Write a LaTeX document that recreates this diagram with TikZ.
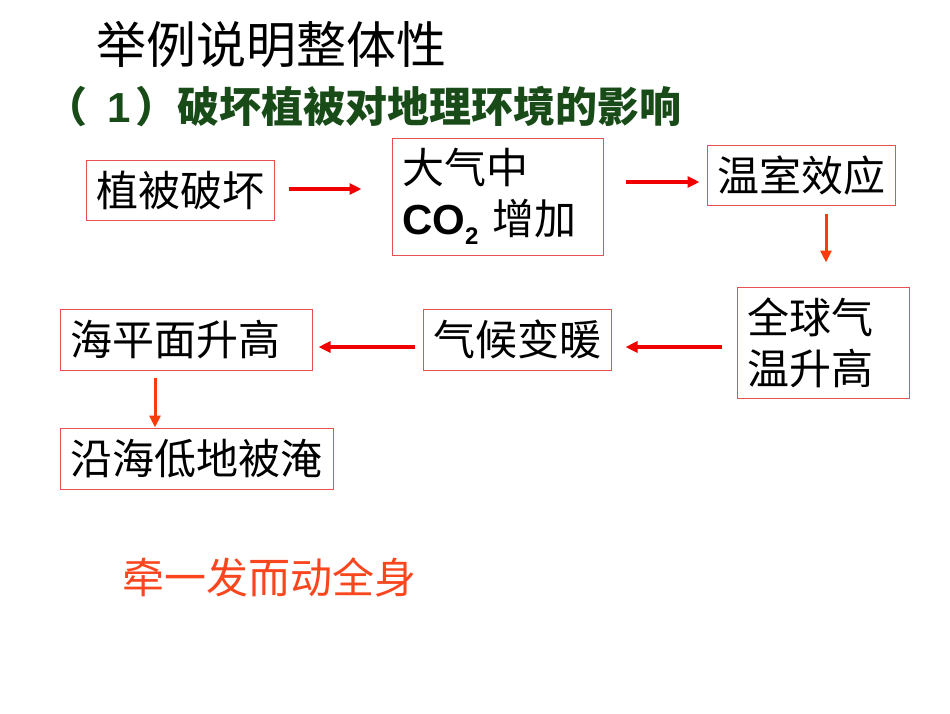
\documentclass[tikz,border=0pt]{standalone}
\usepackage{fontspec}
\setmainfont{Liberation Sans}
\newfontfamily\cjk{Noto Sans CJK SC}
\usetikzlibrary{arrows.meta}
\definecolor{boxred}{RGB}{230,80,80}
\definecolor{arrred}{RGB}{240,0,0}
\definecolor{arrorange}{RGB}{250,60,10}
\definecolor{titlegreen}{RGB}{25,75,25}
\definecolor{slogan}{RGB}{250,70,30}
\tikzset{
  box/.style={draw=boxred, line width=1pt, inner ysep=0pt, inner xsep=10pt, align=left,
              font=\cjk\fontsize{42}{51}\selectfont},
  harrow/.style={draw=arrred, line width=3.6pt, -{Triangle[length=12pt,width=11pt]}},
  varrow/.style={draw=arrorange, line width=3pt, -{Triangle[length=12pt,width=11pt]}},
}
\begin{document}
\begin{tikzpicture}[x=1pt,y=-1pt]
\useasboundingbox (0,0) rectangle (950,713);
\node[anchor=west, font=\cjk\fontsize{50}{56}\selectfont] (title) at (93,45) {举例说明整体性};
\node[anchor=west, text=titlegreen, font=\fontsize{42}{48}\selectfont] (sub) at (42,107)
  {{\cjk\bfseries （}\hspace{20pt}{\bfseries 1}\hspace{5pt}{\cjk\bfseries ）破坏植被对地理环境的影响}};

\node[box, text width=168pt, minimum height=60pt] (b1) at (180,190) {植被破坏};
\node[box, text width=191pt, minimum height=117pt] (b2) at (497.5,196.5)
  {大气中\\{\rmfamily\bfseries CO\raisebox{-0.25em}{\fontsize{24}{24}\selectfont 2}} 增加};
\node[box, text width=168pt, minimum height=60pt] (b3) at (801,175) {温室效应};
\node[box, text width=152pt, minimum height=111pt] (b4) at (823,342.5) {全球气\\温升高};
\node[box, text width=168pt, minimum height=61pt] (b5) at (517,339.5) {气候变暖};
\node[box, text width=232pt, minimum height=61pt] (b6) at (186,339.5) {海平面升高};
\node[box, text width=253pt, minimum height=61pt] (b7) at (196.5,458.5) {沿海低地被淹};

\node[anchor=west, text=slogan, font=\cjk\fontsize{42}{48}\selectfont] (slogan) at (119,577) {牵一发而动全身};

\draw[harrow, shorten <=14pt, shorten >=30pt] ([yshift=1pt]b1.east) -- ([yshift=1pt]b2.west |- b1.east);
\draw[harrow, shorten <=22pt, shorten >=7pt] ([yshift=-7pt]b2.east |- b3.west) -- ([yshift=-7pt]b3.west);
\draw[varrow, shorten <=8pt, shorten >=24pt] ([xshift=25pt]b3.south) -- ([xshift=25pt]b3.south |- b4.north);
\draw[harrow, shorten <=15pt, shorten >=14pt] ([yshift=-4.5pt]b4.west) -- ([yshift=-4.5pt]b4.west -| b5.east);
\draw[harrow, shorten <=8pt, shorten >=6pt] ([yshift=-7.5pt]b5.west) -- ([yshift=-7.5pt]b5.west -| b6.east);
\draw[varrow, shorten <=7pt] ([xshift=-31pt]b6.south) -- ([xshift=-31pt]b6.south |- b7.north);
\end{tikzpicture}
\end{document}
